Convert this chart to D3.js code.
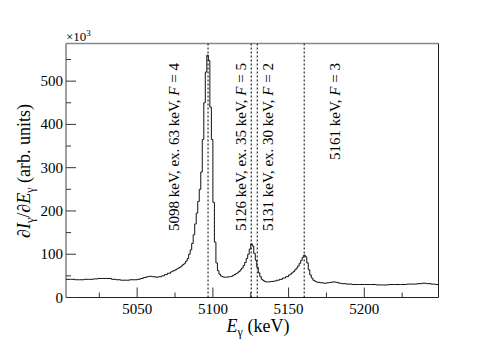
<!DOCTYPE html>
<html><head><meta charset="utf-8">
<script src="https://cdn.jsdelivr.net/npm/d3@7"></script>
<style>body{margin:0;background:#fff}svg{display:block}</style>
</head><body><svg id="c" width="490" height="347"></svg>
<script>
// Spectrum (bin start energies in keV, counts in units of 10^3)
const energies = [5003,5006,5009,5012,5015,5018,5021,5024,5027,5030,5033,5036,5039,5042,5045,5048,5050,5052,5054,5056,5058,5060,5062,5064,5066,5068,5070,5072,5073,5074,5075,5076,5077,5078,5079,5080,5081,5082,5083,5084,5085,5086,5087,5088,5089,5090,5091,5092,5093,5094,5095,5096,5097,5098,5099,5100,5101,5102,5103,5104,5105,5106,5107,5108,5109,5110,5111,5112,5113,5114,5115,5116,5117,5118,5119,5120,5121,5122,5123,5124,5125,5126,5127,5128,5129,5130,5131,5132,5133,5134,5135,5136,5137,5138,5139,5140,5142,5144,5146,5148,5150,5151,5152,5153,5154,5155,5156,5157,5158,5159,5160,5161,5162,5163,5164,5165,5166,5167,5168,5169,5171,5173,5175,5177,5179,5181,5183,5185,5188,5192,5196,5200,5204,5208,5212,5216,5220,5224,5228,5232,5235,5238,5241,5244,5247,5249];
const counts = [42,42,41,41,42,42,43,44,44,44,42,41,40,40,41,41,42,44,46,48,49,48,47,48,50,53,56,59,61,62,64,66,68,70,73,76,79,84,90,100,110,125,145,170,195,222,250,290,365,450,521,560,548,440,365,220,128,80,62,54,50,48,47,47,47,48,48,49,51,53,55,57,60,64,68,74,81,90,100,112,124,119,102,86,70,57,48,42,39,37,36,36,36,37,37,38,40,42,45,48,52,54,57,60,64,68,73,79,86,93,98,94,80,64,52,45,40,38,36,35,34,33,34,35,36,35,33,32,31,30,30,30,30,29,29,30,30,30,31,31,32,33,32,31,30,30];
// Marked transition lines
const lineEnergies = [5096.8, 5125.3, 5129.3, 5160.3];
const lineLabels = ["5098 keV, ex. 63 keV, ", "5126 keV, ex. 35 keV, ", "5131 keV, ex. 30 keV, ", "5161 keV, "];
const lineF = ["4", "5", "2", "3"];
const xTicks = [5050, 5100, 5150, 5200];
const yTicks = [0, 100, 200, 300, 400, 500];

const FF = "Liberation Serif";
const svg = d3.select("#c");
const L = 66, R = 438.5, T = 43.5, B = 297.5;
const x = d3.scaleLinear().domain([5003, 5249]).range([L, R]);
const y = d3.scaleLinear().domain([0, 587]).range([B, T]);

// frame
svg.append("line").attr("x1", L).attr("x2", R).attr("y1", T).attr("y2", T).attr("stroke", "#888").attr("stroke-width", 1.3);
svg.append("line").attr("x1", L).attr("x2", L).attr("y1", T).attr("y2", B).attr("stroke", "#777").attr("stroke-width", 1.4);
svg.append("line").attr("x1", R).attr("x2", R).attr("y1", T).attr("y2", B).attr("stroke", "#222").attr("stroke-width", 1);
svg.append("line").attr("x1", L).attr("x2", R).attr("y1", B).attr("y2", B).attr("stroke", "#222").attr("stroke-width", 1.2);

// x ticks
const xMinor = d3.range(5025, 5249, 25);
svg.selectAll(".xt").data(xMinor).enter().append("line")
  .attr("x1", d => x(d)).attr("x2", d => x(d)).attr("y1", B)
  .attr("y2", d => xTicks.includes(d) ? B - 10 : B - 5)
  .attr("stroke", "#333").attr("stroke-width", 1);
svg.selectAll(".xl").data(xTicks).enter().append("text")
  .attr("font-family", FF)
  .attr("x", d => x(d)).attr("y", B + 16).attr("text-anchor", "middle")
  .attr("font-size", 15).attr("fill", "#000").text(d => d);

// y ticks
const yMinor = d3.range(0, 587, 50);
svg.selectAll(".yt").data(yMinor).enter().append("line")
  .attr("y1", d => y(d)).attr("y2", d => y(d)).attr("x1", L)
  .attr("x2", d => yTicks.includes(d) ? L + 10 : L + 5)
  .attr("stroke", "#333").attr("stroke-width", 1);
svg.selectAll(".yl").data(yTicks).enter().append("text")
  .attr("font-family", FF)
  .attr("x", L - 3).attr("y", d => y(d) + 5).attr("text-anchor", "end")
  .attr("font-size", 15).attr("fill", "#000").text(d => d);

// x10^3
const ex = svg.append("text").attr("font-family", FF).attr("x", L).attr("y", 41).attr("font-size", 13).attr("fill", "#000");
ex.append("tspan").attr("font-family", FF).text("×10");
ex.append("tspan").attr("font-family", FF).attr("dy", -5).attr("font-size", 9).text("3");

// dashed lines
svg.selectAll(".dl").data(lineEnergies).enter().append("line")
  .attr("x1", d => x(d)).attr("x2", d => x(d)).attr("y1", T).attr("y2", B)
  .attr("stroke", "#000").attr("stroke-width", 1).attr("stroke-dasharray", "2,2");

// spectrum
const pts = energies.map((e, i) => [e, counts[i]]);
const line = d3.line().x(d => x(d[0])).y(d => y(d[1])).curve(d3.curveStepAfter);
svg.append("path").datum(pts).attr("d", line).attr("fill", "none")
  .attr("stroke", "#111").attr("stroke-width", 1);

// annotations
const labelX = [179, 246, 273, 340];
lineLabels.forEach((s, i) => {
  const t = svg.append("text").attr("font-family", FF).attr("transform", `translate(${labelX[i]},63) rotate(-90)`)
    .attr("text-anchor", "end").attr("font-size", 15).attr("fill", "#000");
  t.append("tspan").attr("font-family", FF).text(s);
  t.append("tspan").attr("font-family", FF).attr("font-style", "italic").text("F");
  t.append("tspan").attr("font-family", FF).text(" = " + lineF[i]);
});

// axis titles
const xt = svg.append("text").attr("font-family", FF).attr("x", 258).attr("y", 332).attr("text-anchor", "middle").attr("font-size", 18).attr("fill", "#000");
xt.append("tspan").attr("font-family", FF).attr("font-style", "italic").text("E");
xt.append("tspan").attr("font-family", FF).attr("dy", 4).attr("font-size", 12).text("γ");
xt.append("tspan").attr("font-family", FF).attr("dy", -4).text("  (keV)");

const yt = svg.append("text").attr("font-family", FF).attr("transform", "translate(30,171) rotate(-90)").attr("text-anchor", "middle").attr("font-size", 18).attr("fill", "#000");
yt.append("tspan").attr("font-family", FF).text("∂");
yt.append("tspan").attr("font-family", FF).attr("font-style", "italic").text("I");
yt.append("tspan").attr("font-family", FF).attr("dy", 4).attr("font-size", 12).text("γ");
yt.append("tspan").attr("font-family", FF).attr("dy", -4).text("/∂");
yt.append("tspan").attr("font-family", FF).attr("font-style", "italic").text("E");
yt.append("tspan").attr("font-family", FF).attr("dy", 4).attr("font-size", 12).text("γ");
yt.append("tspan").attr("font-family", FF).attr("dy", -4).text(" (arb. units)");
</script></body></html>
